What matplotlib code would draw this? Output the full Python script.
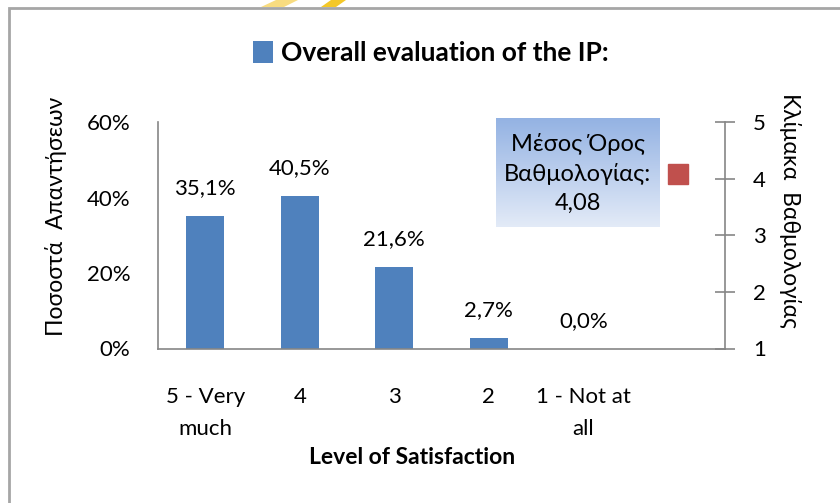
import numpy as np
import matplotlib
matplotlib.use("Agg")
import matplotlib.pyplot as plt
from matplotlib.patches import Polygon, Rectangle
from matplotlib.ticker import PercentFormatter

plt.rcParams['font.family'] = ['Lato', 'DejaVu Sans']

# data
categories = ["5 - Very\nmuch", "4", "3", "2", "1 - Not at\nall", ""]
shares = [35.1, 40.5, 21.6, 2.7, 0.0]
mean_score = 4.08
series_name = "Overall evaluation of the IP:"

W, H = 840, 503
fig = plt.figure(figsize=(W / 100, H / 100), dpi=100)

def fx(px):
    return px / W

def fy(py):
    return 1 - py / H

# outer frame and the yellow stripes at the top edge
fig.add_artist(Rectangle((fx(9), -0.5), 2, fy(8) + 0.5, transform=fig.transFigure,
                         fill=False, edgecolor="#a6a6a6", linewidth=2))
fig.add_artist(Polygon([(fx(276), 1), (fx(298), 1), (fx(284), fy(7)), (fx(261), fy(7))],
                       closed=True, transform=fig.transFigure, color="#f8dc80", lw=0))
fig.add_artist(Polygon([(fx(331), 1), (fx(346), 1), (fx(336), fy(7)), (fx(321), fy(7))],
                       closed=True, transform=fig.transFigure, color="#f4c829", lw=0))

ax = fig.add_axes([fx(158), fy(348.5), fx(725) - fx(158), fy(122) - fy(348.5)])
x = np.arange(len(categories))
bars = ax.bar(x[:len(shares)], np.array(shares) / 100, width=0.4, color="#4f81bd")

for xi, v in zip(x, shares):
    ax.annotate(f"{v:.1f}%".replace(".", ","), (xi, v / 100), xytext=(0, 20),
                textcoords="offset points", ha="center", va="center", fontsize=16)

ax.set_xlim(-0.5, len(categories) - 0.5)
ax.set_ylim(0, 0.6)
ax.set_yticks([0, 0.2, 0.4, 0.6])
ax.yaxis.set_major_formatter(PercentFormatter(1.0, decimals=0))
ax.set_xticks(x)
ax.set_xticklabels(categories, linespacing=1.75)
ax.tick_params(axis="both", length=0, labelsize=16)
ax.tick_params(axis="y", pad=20)
ax.tick_params(axis="x", pad=28)
for s in ["top", "right"]:
    ax.spines[s].set_visible(False)
for s in ["left", "bottom"]:
    ax.spines[s].set_color("#868686")
    ax.spines[s].set_linewidth(1.2)
fig.text(fx(56), fy(216), "Ποσοστά  Απαντήσεων", rotation=90, fontsize=16.5,
         ha="center", va="center")

ax2 = ax.twinx()
ax2.set_ylim(1, 5)
ax2.set_yticks([1, 2, 3, 4, 5])
ax2.plot([x[len(shares)]], [mean_score], marker="s", markersize=15,
         color="#c0504d", linestyle="none")
ax2.tick_params(axis="y", direction="inout", length=14, color="#868686",
                labelsize=16, pad=13, width=1.2)
for s in ["top", "left", "bottom"]:
    ax2.spines[s].set_visible(False)
ax2.spines["right"].set_color("#868686")
ax2.spines["right"].set_linewidth(1.2)
fig.text(fx(790), fy(210), "Κλίμακα  Βαθμολογίας", rotation=-90, fontsize=16.5,
         ha="center", va="center")

# callout box with gradient
bx = fig.add_axes([fx(496), fy(227), fx(660) - fx(496), fy(118) - fy(227)])
top = np.array([0.58, 0.70, 0.89])
bot = np.array([0.89, 0.92, 0.97])
grad = np.linspace(0, 1, 100)[:, None, None] * (bot - top) + top
bx.imshow(grad, aspect="auto", extent=[0, 1, 0, 1])
bx.set_axis_off()
bx.text(0.5, 0.49, "Μέσος Όρος\nΒαθμολογίας:\n" + f"{mean_score:.2f}".replace(".", ","),
        ha="center", va="center", fontsize=17, linespacing=1.45, transform=bx.transAxes)

fig.text(fx(412), fy(458), "Level of Satisfaction", fontsize=16.5, fontweight="bold",
         ha="center", va="center")

fig.legend([bars], [series_name], loc="center", bbox_to_anchor=(fx(431), fy(53)),
           frameon=False, handlelength=0.75, handleheight=0.9, handletextpad=0.3,
           prop={"size": 19, "weight": "bold"})

fig.savefig("out.png", dpi=100)
